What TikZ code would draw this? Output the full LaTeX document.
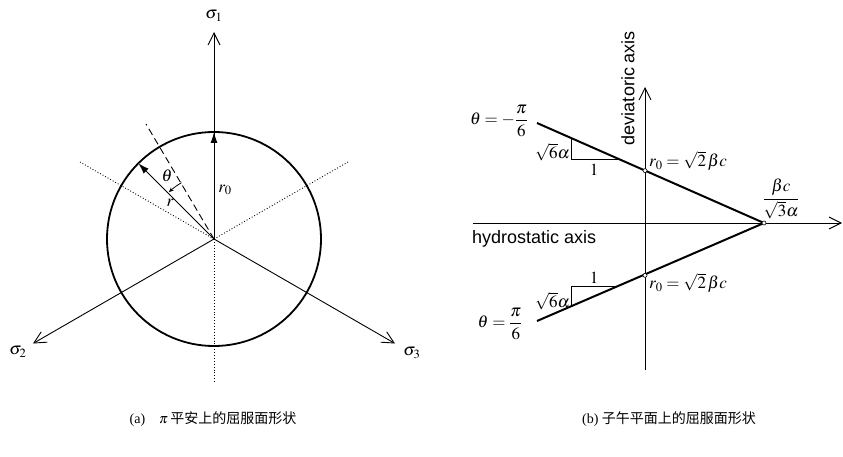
\documentclass[tikz,border=0pt]{standalone}
\usepackage{amsmath}
\usepackage{mathptmx}
\usepackage{fontspec}
\setmainfont{Liberation Serif}
\setsansfont{Liberation Sans}
\newfontfamily\cjk{Noto Sans CJK SC}
\usetikzlibrary{arrows.meta}
\tikzset{
  axisline/.style={line width=0.9pt,-{Straight Barb[length=12pt,width=12pt]}},
  yieldline/.style={line width=2pt},
  circleline/.style={line width=1.8pt},
  thinline/.style={line width=0.6pt},
  dotline/.style={line width=0.9pt,dotted},
  dashline/.style={line width=0.9pt,dash pattern=on 7pt off 4pt},
  fillarrow/.style={line width=1pt,-{Latex[length=11pt,width=7pt]}},
  lab/.style={inner sep=0pt,font=\fontsize{17}{20}\selectfont},
  sanslab/.style={inner sep=0pt,font=\sffamily\fontsize{18}{21}\selectfont},
  caplab/.style={inner sep=0pt,font=\fontsize{14}{16}\selectfont},
  pt/.style={circle,draw,fill=white,line width=0.6pt,inner sep=0pt,minimum size=4pt}
}
\begin{document}
\begin{tikzpicture}[x=1pt,y=-1pt]
\useasboundingbox (0,0) rectangle (843,457);
% ---------- (a) pi plane ----------
\coordinate (O) at (214,239);
\coordinate (S1) at (214,32);
\coordinate (S2) at (33,343.5);
\coordinate (S3) at (395,343.5);
\coordinate (D1) at (80,162);
\coordinate (D2) at (348,162);
\coordinate (D3) at (214,382);
\coordinate (DS) at (146,124);
\coordinate (R0) at (214,132);
\coordinate (R) at (138.3,163.3);
\coordinate (TH) at (181.5,182.7);
\draw[circleline] (O) circle[radius=107pt];
\draw[dotline] (O) -- (D1);
\draw[dotline] (O) -- (D2);
\draw[dotline] (O) -- (D3);
\draw[dashline] (O) -- (DS);
\draw[axisline] (O) -- (S1);
\draw[axisline] (O) -- (S2);
\draw[axisline] (O) -- (S3);
\draw[fillarrow] (O) -- (R0);
\draw[fillarrow] (O) -- (R);
\draw[line width=0.8pt,-{Stealth[length=5pt,width=4pt]}] (TH) arc[start angle=120,end angle=134,radius=65pt];
\node[lab] (s1lab) at (214,16) {$\sigma_1$};
\node[lab] (s2lab) at (18,352) {$\sigma_2$};
\node[lab] (s3lab) at (412,353) {$\sigma_3$};
\node[lab] (r0lab) at (225,190) {$r_0$};
\node[lab] (thlab) at (167,176) {$\theta$};
\node[lab] (rlab) at (170,203) {$r$};
% ---------- (b) meridian plane ----------
\coordinate (H0) at (473,223);
\coordinate (H1) at (842,223);
\coordinate (V0) at (645,370);
\coordinate (V1) at (645,87);
\coordinate (U) at (537,123);
\coordinate (L) at (537,321);
\draw[axisline] (H0) -- (H1);
\draw[axisline] (V0) -- (V1);
\draw[thinline] (571,138) -- (571,159) -- (618.7,159);
\draw[thinline] (571,306) -- (571,286) -- (616.5,286);
\draw[yieldline] (U) -- (764,223) -- (L);
\node[pt] (A) at (764,223) {};
\node[pt] (P1) at (645,170.6) {};
\node[pt] (P2) at (645,275.4) {};
\node[lab] (thu) at (499,121) {$\theta=-\dfrac{\pi}{6}$};
\node[lab,anchor=east] (su) at (570,152) {$\sqrt{6}\alpha$};
\node[lab] (ou) at (594,170) {$1$};
\node[lab,anchor=west] (r0u) at (649,161) {$r_0=\sqrt{2}\,\beta c$};
\node[lab] (apl) at (781,199) {$\dfrac{\beta c}{\sqrt{3}\alpha}$};
\node[lab] (ol) at (594,278) {$1$};
\node[lab,anchor=east] (sl) at (570,301) {$\sqrt{6}\alpha$};
\node[lab,anchor=west] (r0l) at (649,283) {$r_0=\sqrt{2}\,\beta c$};
\node[lab] (thl) at (500,324) {$\theta=\dfrac{\pi}{6}$};
\node[sanslab,anchor=west] (hyd) at (472,239) {hydrostatic axis};
\node[sanslab,rotate=90] (dev) at (628,88) {deviatoric axis};
% ---------- captions ----------
\node[caplab] (capa) at (213,419) {(a)\quad$\pi$\,{\cjk 平安上的屈服面形状}};
\node[caplab] (capb) at (669,419) {(b) {\cjk 子午平面上的屈服面形状}};
\end{tikzpicture}
\end{document}
